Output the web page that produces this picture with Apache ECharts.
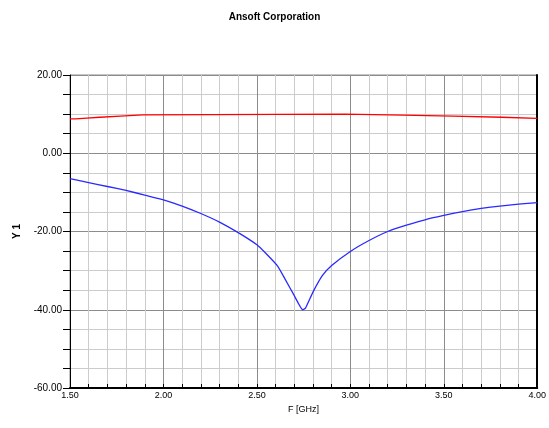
<!DOCTYPE html>
<html>
<head>
<meta charset="utf-8">
<script src="https://cdn.jsdelivr.net/npm/echarts@6/dist/echarts.min.js"></script>
<style>html,body{margin:0;padding:0;background:#fff;}#c{width:549px;height:428px;}</style>
</head>
<body>
<div id="c"></div>
<script>
var titleText = "Ansoft Corporation";
var xName = "F [GHz]";
var yName = "Y 1";
var redF =   [1.50, 1.53, 1.59, 1.66, 1.77, 1.89, 2.97, 3.28, 3.55, 3.81, 4.00];
var redY =   [8.8,  9.0,  9.2,  9.5,  9.8,  10.0, 9.75, 9.5,  9.2,  8.9,  8.9];
var blueF = [1.50, 1.60, 1.70, 1.80, 1.90, 2.00, 2.10, 2.20, 2.30, 2.40, 2.50, 2.55, 2.61, 2.65, 2.70, 2.745, 2.76, 2.80, 2.85, 2.90, 3.00, 3.10, 3.20, 3.30, 3.40, 3.50, 3.60, 3.70, 3.80, 3.90, 4.00];
var blueY = [-6.5, -7.5, -8.5, -9.5, -10.7, -11.9, -13.5, -15.4, -17.6, -20.3, -23.4, -25.7, -28.8, -32.1, -36.4, -40.0, -39.6, -35.5, -31.3, -28.7, -25.1, -22.3, -20.0, -18.4, -17.0, -15.9, -14.9, -14.1, -13.5, -13.0, -12.6];

function pairs(xs, ys){ return xs.map(function(x,i){ return [x, ys[i]]; }); }

var chart = echarts.init(document.getElementById('c'), null, {renderer:'canvas'});
var font = 'Liberation Sans, Arial, sans-serif';
chart.setOption({
  animation: false,
  backgroundColor: '#ffffff',
  title: {
    text: titleText, left: 'center', top: 7,
    textStyle: {fontFamily: font, fontSize: 10, fontWeight: 'bold', color: '#000'}
  },
  grid: {left: 70, right: 8, top: 75, bottom: 40, show: true, borderColor: '#888', borderWidth: 1},
  xAxis: {
    type: 'value', min: 1.5, max: 4.0, interval: 0.5,
    name: xName, nameLocation: 'middle', nameGap: 17,
    nameTextStyle: {fontFamily: font, fontSize: 9, color: '#000'},
    axisLine: {show: true, onZero: false, lineStyle: {color: '#000', width: 2}},
    axisTick: {show: true, inside: true, length: 4, lineStyle: {color: '#000'}},
    minorTick: {show: true, splitNumber: 5, length: 4, lineStyle: {color: '#000'}},
    axisLabel: {fontFamily: font, fontSize: 9, color: '#000', margin: 3,
      formatter: function(v){ return v.toFixed(2); }},
    splitLine: {show: true, lineStyle: {color: '#8c8c8c', width: 1}},
    minorSplitLine: {show: true, lineStyle: {color: '#cccccc', width: 1}}
  },
  yAxis: [{
    type: 'value', min: -60, max: 20, interval: 20,
    name: yName, nameLocation: 'middle', nameGap: 42, nameRotate: 90,
    nameTextStyle: {fontFamily: font, fontSize: 10, fontWeight: 'bold', color: '#000'},
    axisLine: {show: true, lineStyle: {color: '#000', width: 1}},
    axisTick: {show: true, inside: false, length: 7, lineStyle: {color: '#000'}},
    minorTick: {show: true, splitNumber: 4, length: 7, lineStyle: {color: '#000'}},
    axisLabel: {fontFamily: font, fontSize: 10, color: '#000', margin: 8,
      formatter: function(v){ return v.toFixed(2); }},
    splitLine: {show: true, lineStyle: {color: '#8c8c8c', width: 1}},
    minorSplitLine: {show: true, lineStyle: {color: '#cccccc', width: 1}}
  }, {
    type: 'value', min: -60, max: 20, interval: 20, position: 'right',
    axisLine: {show: true, lineStyle: {color: '#000', width: 2}},
    axisTick: {show: false}, axisLabel: {show: false}, splitLine: {show: false}
  }],
  series: [{
    type: 'line', data: pairs(redF, redY), step: 'end', showSymbol: false,
    lineStyle: {color: '#ff0000', width: 1.3}, z: 3
  }, {
    type: 'line', data: pairs(blueF, blueY), showSymbol: false, smooth: 0.15,
    lineStyle: {color: '#2a2aff', width: 1.3}, z: 3
  }]
});
</script>
</body>
</html>
